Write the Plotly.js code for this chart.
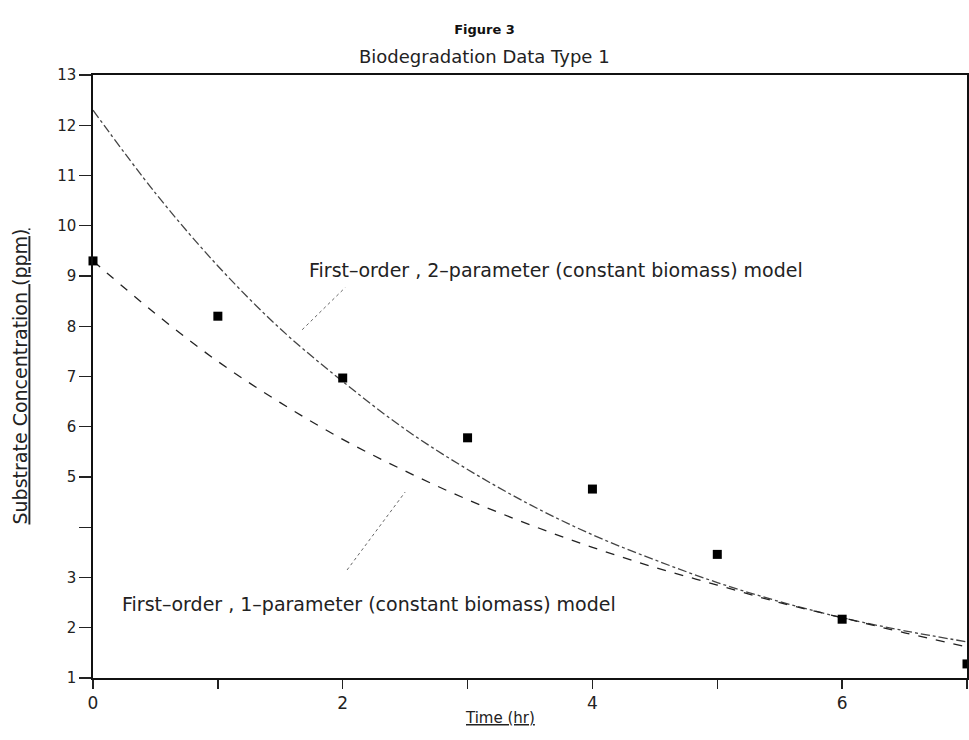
<!DOCTYPE html>
<html>
<head>
<meta charset="utf-8">
<script src="https://cdn.plot.ly/plotly-3.0.1.min.js"></script>
<style>html,body{margin:0;padding:0;background:#fff;}#chart{width:969px;height:740px;}</style>
</head>
<body>
<div id="chart"></div>
<script>
// Observed biodegradation data
const obsTime = [0, 1, 2, 3, 4, 5, 6, 7];
const obsConc = [9.3, 8.2, 6.97, 5.78, 4.76, 3.46, 2.17, 1.28];

// Model curves
const modelTime = [0, 0.5, 1, 1.5, 2, 2.5, 3, 3.5, 4, 4.5, 5, 5.5, 6, 6.5, 7];
const twoParam = [12.3, 10.65, 9.2, 7.95, 6.9, 5.95, 5.15, 4.45, 3.85, 3.35, 2.9, 2.52, 2.2, 1.94, 1.72];
const oneParam = [9.3, 8.25, 7.3, 6.48, 5.75, 5.12, 4.55, 4.05, 3.6, 3.2, 2.85, 2.5, 2.2, 1.9, 1.62];

// Tick labels
const yTickVals = [1, 2, 3, 4, 5, 6, 7, 8, 9, 10, 11, 12, 13];
const yTickText = ['1', '2', '3', '', '5', '6', '7', '8', '9', '10', '11', '12', '13'];
const xTickVals = [0, 1, 2, 3, 4, 5, 6, 7];
const xTickText = ['0', '', '2', '', '4', '', '6', ''];

const FONT = '"DejaVu Sans", Lato, sans-serif';

const traces = [
  {
    x: modelTime, y: twoParam, mode: 'lines', type: 'scatter',
    line: {color: '#444', width: 1.3, dash: 'dashdot', shape: 'spline'},
    name: 'First-order, 2-parameter', showlegend: false
  },
  {
    x: modelTime, y: oneParam, mode: 'lines', type: 'scatter',
    line: {color: '#222', width: 1.3, dash: 'dash', shape: 'spline'},
    name: 'First-order, 1-parameter', showlegend: false
  },
  {
    x: obsTime, y: obsConc, mode: 'markers', type: 'scatter',
    marker: {symbol: 'square', size: 9, color: '#000'},
    name: 'Data', showlegend: false, cliponaxis: false
  }
];

const layout = {
  width: 969, height: 740,
  margin: {l: 93, r: 2, t: 75, b: 62},
  paper_bgcolor: '#fff', plot_bgcolor: '#fff',
  font: {family: FONT, color: '#222', size: 15},
  title: {text: '<b>Figure 3</b>', font: {family: FONT, size: 13, color: '#111'},
          x: 0.5, xanchor: 'center', y: 0.96, yanchor: 'middle', yref: 'container'},
  xaxis: {
    range: [0, 7], tickmode: 'array', tickvals: xTickVals, ticktext: xTickText,
    ticks: 'outside', ticklen: 9, tickwidth: 1.3, tickcolor: '#222',
    showgrid: false, zeroline: false, showline: true, linecolor: '#111', linewidth: 1.6, mirror: true,
    tickfont: {size: 17, color: '#222'}
  },
  yaxis: {
    range: [1, 13], tickmode: 'array', tickvals: yTickVals, ticktext: yTickText,
    ticks: 'outside', ticklen: 12, tickwidth: 1.3, tickcolor: '#222',
    showgrid: false, zeroline: false, showline: true, linecolor: '#111', linewidth: 1.6, mirror: true,
    tickfont: {size: 15, color: '#222'},
    title: {text: '<u>Substrate Concentration (ppm)</u>', font: {size: 19, color: '#222'}, standoff: 24}
  },
  annotations: [
    {text: 'Biodegradation Data Type 1', xref: 'paper', yref: 'paper', x: (484 - 93) / 874, y: 1 + 18/603,
     xanchor: 'center', yanchor: 'middle', showarrow: false, font: {size: 18, color: '#222'}},
    {text: '<u>Time (hr)</u>', xref: 'paper', yref: 'paper', x: (500 - 93) / 874, y: -(718 - 678) / 603,
     xanchor: 'center', yanchor: 'middle', showarrow: false, font: {size: 15, color: '#222'}},
    {text: 'First\u2013order , 2\u2013parameter (constant biomass) model', xref: 'x', yref: 'y',
     x: 1.715, y: 9.12, xanchor: 'left', yanchor: 'middle', showarrow: false, font: {size: 19, color: '#222'}},
    {text: 'First\u2013order , 1\u2013parameter (constant biomass) model', xref: 'x', yref: 'y',
     x: 0.216, y: 2.47, xanchor: 'left', yanchor: 'middle', showarrow: false, font: {size: 19, color: '#222'}}
  ],
  shapes: [
    {type: 'line', xref: 'x', yref: 'y', x0: 1.675, y0: 7.93, x1: 2.02, y1: 8.77,
     line: {color: '#666', width: 1, dash: 'dot'}},
    {type: 'line', xref: 'x', yref: 'y', x0: 2.035, y0: 3.15, x1: 2.5, y1: 4.7,
     line: {color: '#666', width: 1, dash: 'dot'}}
  ]
};

Plotly.newPlot('chart', traces, layout, {displayModeBar: false, staticPlot: true});
</script>
</body>
</html>
